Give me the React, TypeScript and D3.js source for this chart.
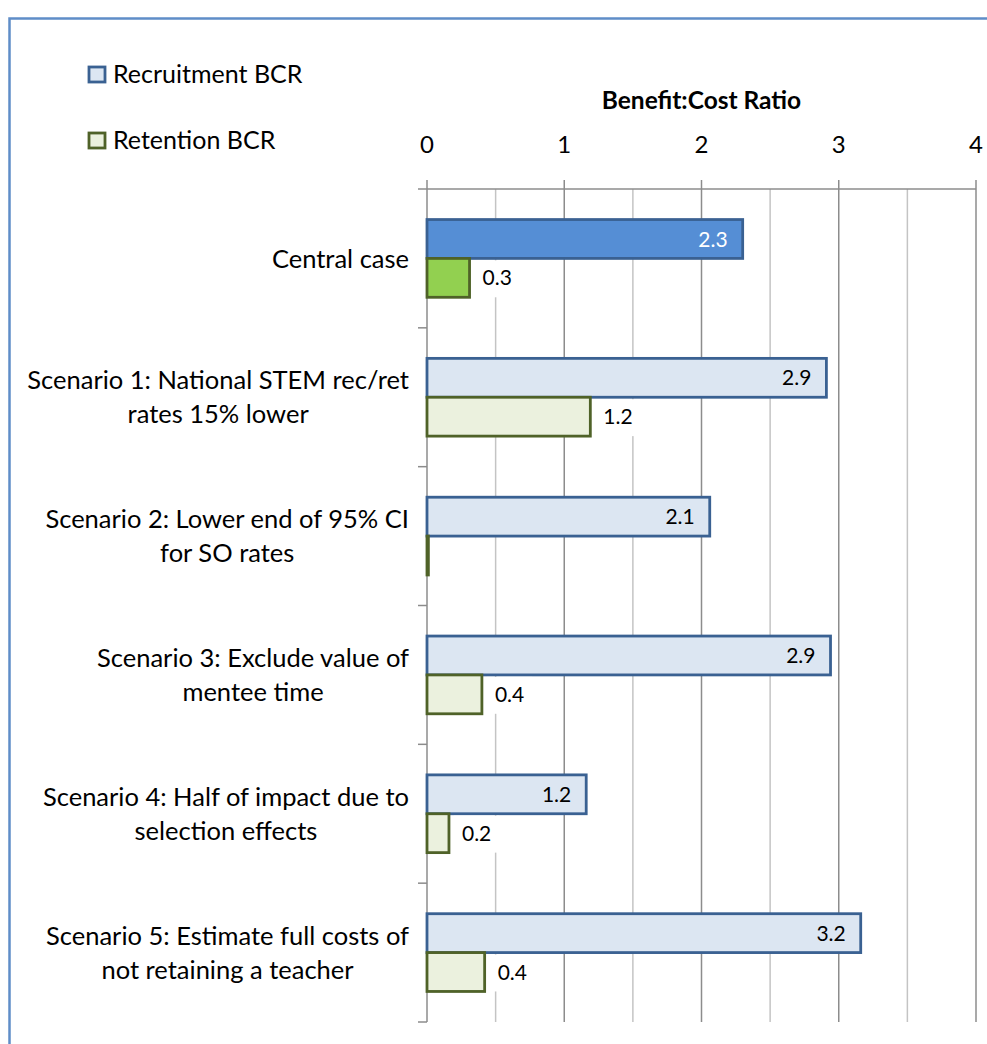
import * as d3 from "d3";
import React, { useEffect, useRef } from "react";

// category labels, already wrapped the way the chart shows them
const CATEGORIES: string[][] = [
  ["Central case"],
  ["Scenario 1: National STEM rec/ret", "rates 15% lower"],
  ["Scenario 2: Lower end of 95% CI", "for SO rates"],
  ["Scenario 3: Exclude value of", "mentee time"],
  ["Scenario 4: Half of impact due  to", "selection effects"],
  ["Scenario 5: Estimate full costs of", "not retaining a teacher"],
];

const RECRUITMENT = [2.3, 2.91, 2.06, 2.94, 1.16, 3.16];
const RETENTION = [0.31, 1.19, 0.01, 0.4, 0.16, 0.42];

const SERIES = ["Recruitment BCR", "Retention BCR"];
const TICKS = [0, 1, 2, 3, 4];
const MINOR = [0.5, 1.5, 2.5, 3.5];
const AXIS_TITLE = "Benefit:Cost Ratio";

const W = 987;
const H = 1044;
const FONT = "Lato, 'Open Sans', 'DejaVu Sans', sans-serif";

const BLUE_STROKE = "#3a6192";
const GREEN_STROKE = "#4f6228";
const BLUE_FILL = "#dce6f2";
const GREEN_FILL = "#ebf1de";
const BLUE_HI = "#558ed5";
const GREEN_HI = "#92d050";

export default function App() {
  const svgRef = useRef<SVGSVGElement | null>(null);

  useEffect(() => {
    const svg = d3.select(svgRef.current);
    svg.selectAll("*").remove();

    const x = d3.scaleLinear().domain([0, 4]).range([427, 976]);
    const y = d3
      .scaleBand<number>()
      .domain(CATEGORIES.map((_, i) => i))
      .range([189, 1022]);
    const bh = y.bandwidth() * 0.28;
    const top = (i: number) => (y(i) ?? 0) + (y.bandwidth() - 2 * bh) / 2;
    const [plotTop, plotBottom] = y.range();

    // outer frame (runs past the right & bottom edge)
    svg
      .append("rect")
      .attr("x", 9.5)
      .attr("y", 18.5)
      .attr("width", W + 20)
      .attr("height", H + 20)
      .attr("fill", "white")
      .attr("stroke", "#5f8dc8")
      .attr("stroke-width", 2.5);

    // gridlines
    const grid = svg.append("g");
    grid
      .selectAll("line.minor")
      .data(MINOR)
      .join("line")
      .attr("x1", (d) => x(d))
      .attr("x2", (d) => x(d))
      .attr("y1", plotTop)
      .attr("y2", plotBottom)
      .attr("stroke", "#c4c4c4")
      .attr("stroke-width", 1.5);
    grid
      .selectAll("line.major")
      .data(TICKS.slice(1))
      .join("line")
      .attr("x1", (d) => x(d))
      .attr("x2", (d) => x(d))
      .attr("y1", plotTop)
      .attr("y2", plotBottom)
      .attr("stroke", "#8c8c8c")
      .attr("stroke-width", 1.5);

    // axes
    const axis = svg.append("g").attr("stroke", "#8c8c8c").attr("stroke-width", 1.5);
    axis
      .append("line")
      .attr("x1", x(0))
      .attr("x2", x(4))
      .attr("y1", plotTop)
      .attr("y2", plotTop);
    axis
      .append("line")
      .attr("x1", x(0))
      .attr("x2", x(0))
      .attr("y1", plotTop)
      .attr("y2", plotBottom);
    axis
      .selectAll("line.xt")
      .data(TICKS)
      .join("line")
      .attr("x1", (d) => x(d))
      .attr("x2", (d) => x(d))
      .attr("y1", plotTop - 9)
      .attr("y2", plotTop);
    const bounds = CATEGORIES.map((_, i) => y(i) ?? 0).concat([plotBottom]);
    axis
      .selectAll("line.yt")
      .data(bounds)
      .join("line")
      .attr("x1", x(0) - 9)
      .attr("x2", x(0))
      .attr("y1", (d) => d)
      .attr("y2", (d) => d);

    // tick labels and axis title
    svg
      .append("g")
      .selectAll("text")
      .data(TICKS)
      .join("text")
      .attr("x", (d) => x(d))
      .attr("y", 144)
      .attr("dy", "0.36em")
      .attr("text-anchor", "middle")
      .attr("font-family", FONT)
      .attr("font-size", 24)
      .attr("fill", "#000")
      .text((d) => String(d));

    svg
      .append("text")
      .attr("x", (x(0) + x(4)) / 2)
      .attr("y", 100)
      .attr("dy", "0.36em")
      .attr("text-anchor", "middle")
      .attr("font-family", FONT)
      .attr("font-weight", 700)
      .attr("font-size", 24.5)
      .text(AXIS_TITLE);

    // bars
    const bars = svg.append("g").attr("stroke-width", 2.8);
    bars
      .selectAll("rect.rec")
      .data(RECRUITMENT)
      .join("rect")
      .attr("x", x(0))
      .attr("y", (_, i) => top(i))
      .attr("width", (d) => x(d) - x(0))
      .attr("height", bh)
      .attr("fill", (_, i) => (i === 0 ? BLUE_HI : BLUE_FILL))
      .attr("stroke", BLUE_STROKE);
    bars
      .selectAll("rect.ret")
      .data(RETENTION)
      .join("rect")
      .attr("x", x(0))
      .attr("y", (_, i) => top(i) + bh)
      .attr("width", (d) => x(d) - x(0))
      .attr("height", bh)
      .attr("fill", (_, i) => (i === 0 ? GREEN_HI : GREEN_FILL))
      .attr("stroke", GREEN_STROKE);

    const fmt = d3.format(".1f");

    // recruitment labels: inside end
    svg
      .append("g")
      .selectAll("text")
      .data(RECRUITMENT)
      .join("text")
      .attr("x", (d) => x(d) - 15)
      .attr("y", (_, i) => top(i) + bh / 2)
      .attr("dy", "0.36em")
      .attr("text-anchor", "end")
      .attr("font-family", FONT)
      .attr("font-size", 21)
      .attr("fill", (_, i) => (i === 0 ? "#fff" : "#000"))
      .text((d) => fmt(d));

    // retention labels: outside end, on a white box that breaks the grid
    const retLab = svg
      .append("g")
      .selectAll("g")
      .data(RETENTION.map((v, i) => ({ v, i })).filter((d) => d.v >= 0.05))
      .join("g");
    const retText = retLab
      .append("text")
      .attr("x", (d) => x(d.v) + 13)
      .attr("y", (d) => top(d.i) + bh * 1.5)
      .attr("dy", "0.36em")
      .attr("font-family", FONT)
      .attr("font-size", 21)
      .attr("fill", "#000")
      .text((d) => fmt(d.v));
    retText.each(function (d) {
      const bb = (this as SVGTextElement).getBBox();
      d3.select((this as SVGTextElement).parentNode as SVGGElement)
        .insert("rect", "text")
        .attr("x", bb.x - 8)
        .attr("y", top(d.i) + bh + 2)
        .attr("width", bb.width + 16)
        .attr("height", bh - 2)
        .attr("fill", "white");
    });

    // category labels: lines centred on each other, block right-aligned
    const catG = svg.append("g");
    CATEGORIES.forEach((lines, i) => {
      const cy = (y(i) ?? 0) + y.bandwidth() / 2;
      const lh = 34;
      const t = catG
        .append("text")
        .attr("font-family", FONT)
        .attr("font-size", 25.5)
        .attr("text-anchor", "middle")
        .attr("fill", "#000");
      const spans = lines.map((ln, k) =>
        t
          .append("tspan")
          .attr("y", cy + (k - (lines.length - 1) / 2) * lh)
          .attr("dy", "0.36em")
          .text(ln)
      );
      const maxW = d3.max(spans, (s) => (s.node() as SVGTSpanElement).getComputedTextLength()) ?? 0;
      spans.forEach((s) => s.attr("x", 409 - maxW / 2));
    });

    // legend
    const leg = svg.append("g");
    const legY = [67, 133];
    SERIES.forEach((name, i) => {
      leg
        .append("rect")
        .attr("x", 89)
        .attr("y", legY[i])
        .attr("width", 16)
        .attr("height", 15)
        .attr("fill", i === 0 ? BLUE_FILL : GREEN_FILL)
        .attr("stroke", i === 0 ? BLUE_STROKE : GREEN_STROKE)
        .attr("stroke-width", 2.8);
      leg
        .append("text")
        .attr("x", 113)
        .attr("y", legY[i] + 16)
        .attr("font-family", FONT)
        .attr("font-size", 25)
        .attr("fill", "#000")
        .text(name);
    });
  }, []);

  return (
    <svg
      ref={svgRef}
      width={W}
      height={H}
      style={{ position: "absolute", left: 0, top: 0, background: "white" }}
    />
  );
}
